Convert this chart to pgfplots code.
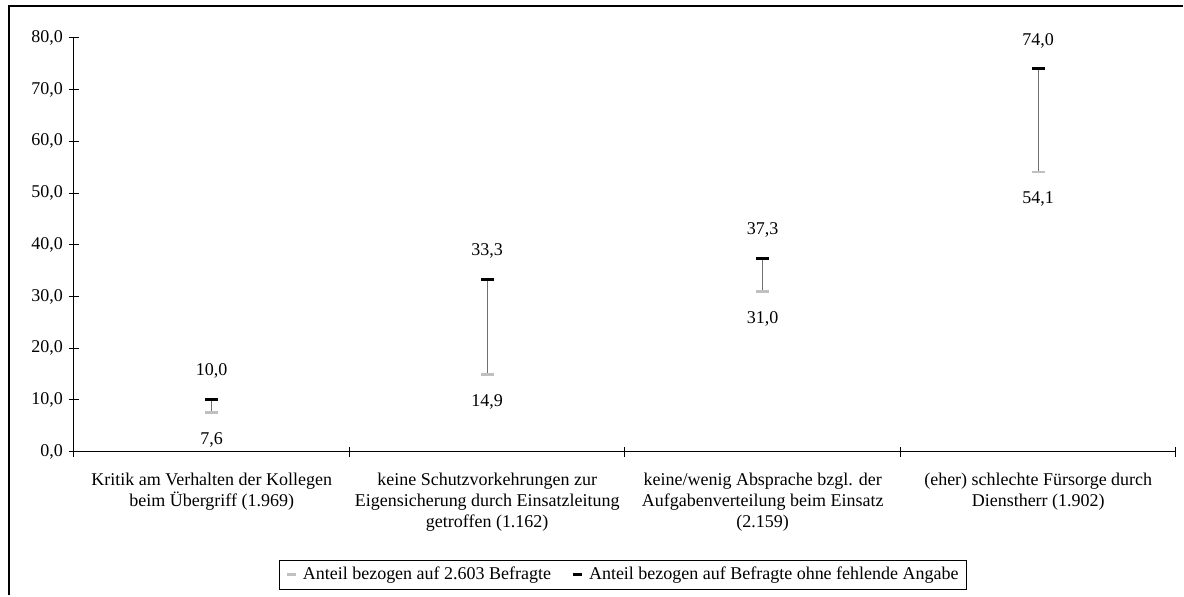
\documentclass[border=0pt]{standalone}
\usepackage{fontspec}
\setmainfont{Liberation Serif}
\usepackage{pgfplots}
\pgfplotsset{compat=1.18}
\definecolor{lowgray}{HTML}{C0C0C0}
\definecolor{linegray}{HTML}{707070}
\begin{document}
\fontsize{18}{21}\selectfont
\begin{tikzpicture}[x=1pt,y=1pt]
\path (0,0) rectangle (1184,596);
\begin{axis}[
  at={(74pt,144pt)}, anchor=south west,
  scale only axis, width=1103pt, height=414pt,
  xmin=0, xmax=4, ymin=0, ymax=80,
  axis x line=bottom, axis y line=left,
  axis line style={-, line width=1pt},
  xtick={0,1,2,3,4}, x tick label as interval,
  xticklabels={{Kritik am Verhalten der Kollegen\\beim Übergriff (1.969)},
               {keine Schutzvorkehrungen zur\\Eigensicherung durch Einsatzleitung\\getroffen (1.162)},
               {keine/wenig Absprache bzgl. der\\Aufgabenverteilung beim Einsatz\\(2.159)},
               {(eher) schlechte Fürsorge durch\\Dienstherr (1.902)}},
  xticklabel style={align=center, font=\fontsize{18}{21}\selectfont, yshift=-10pt},
  yticklabel style={font=\fontsize{18}{21}\selectfont},
  ytick={0,10,...,80},
  tick align=center, major tick length=10pt,
  tick style={black, line width=1pt},
  /pgf/number format/.cd, use comma, fixed, fixed zerofill, precision=1, 1000 sep={}, assume math mode=true,
  /pgfplots/.cd,
  legend columns=2,
  legend cell align=left,
  legend style={at={(0.5,0)}, anchor=north, xshift=-2pt, yshift=-108pt, draw=black, line width=0.8pt,
    font=\fontsize{18}{21}\selectfont, inner xsep=6pt, inner ysep=5pt,
    /tikz/every odd column/.append style={column sep=4pt},
    /tikz/every even column/.append style={column sep=18pt}},
  clip=false,
]
\addplot[only marks, mark=-, mark size=6.5pt, mark options={line width=2.5pt, draw=lowgray},
  nodes near coords,
  every node near coord/.append style={anchor=base, yshift=-32pt, black, font=\fontsize{18}{21}\selectfont},
  legend image code/.code={\draw[line width=2.5pt, draw=lowgray] (0pt,0pt) -- (9pt,0pt);},
  error bars/.cd, y dir=plus, y explicit, error mark=none,
  error bar style={line width=1.4pt, linegray}]
  coordinates {(0.5,7.6) +- (0,2.4) (1.5,14.9) +- (0,18.4) (2.5,31.0) +- (0,6.3) (3.5,54.1) +- (0,19.9)};
\addlegendentry{Anteil bezogen auf 2.603 Befragte}
\addplot[only marks, mark=-, mark size=6.5pt, mark options={line width=3pt, draw=black},
  nodes near coords,
  every node near coord/.append style={anchor=base, yshift=24pt, black, font=\fontsize{18}{21}\selectfont},
  legend image code/.code={\draw[line width=3pt, draw=black] (0pt,0pt) -- (9pt,0pt);}]
  coordinates {(0.5,10.0) (1.5,33.3) (2.5,37.3) (3.5,74.0)};
\addlegendentry{Anteil bezogen auf Befragte ohne fehlende Angabe}
\end{axis}
\draw[line width=2pt] (9.5,0) -- (9.5,590) -- (1184,590);
\end{tikzpicture}
\end{document}
